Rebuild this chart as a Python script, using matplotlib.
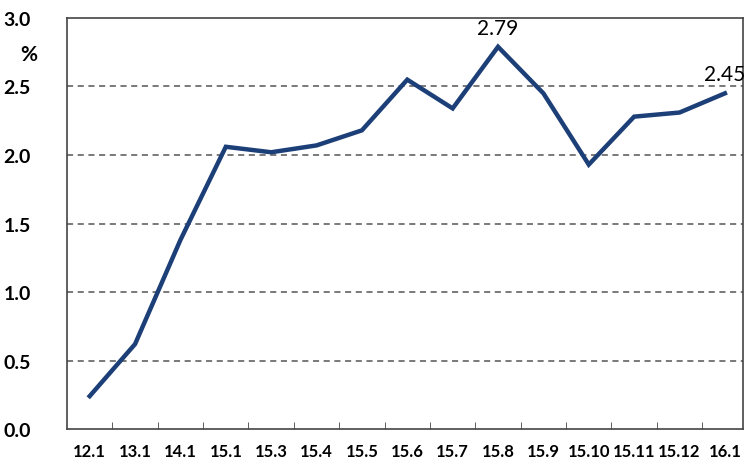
import matplotlib.pyplot as plt

plt.rcParams['font.family'] = ['Lato', 'DejaVu Sans']

months = ["12.1", "13.1", "14.1", "15.1", "15.3", "15.4", "15.5", "15.6",
          "15.7", "15.8", "15.9", "15.10", "15.11", "15.12", "16.1"]
rate = [0.24, 0.62, 1.38, 2.06, 2.02, 2.07, 2.18, 2.55,
        2.34, 2.79, 2.45, 1.93, 2.28, 2.31, 2.45]

fig = plt.figure(figsize=(7.47, 4.6), dpi=100)
ax = fig.add_axes([0.0897, 0.0652, 0.905, 0.8935])

x = list(range(len(months)))
ax.plot(x, rate, color='#1c3f78', linewidth=3.2, solid_joinstyle='miter', zorder=3)

ax.set_xlim(-0.5, 14.4)
ax.set_ylim(0, 3.0)
ax.set_yticks([0, 0.5, 1.0, 1.5, 2.0, 2.5, 3.0])
ax.set_yticklabels(["0.0", "0.5", "1.0", "1.5", "2.0", "2.5", "3.0"],
                   fontsize=14, fontweight='bold')
ax.tick_params(axis='y', length=0, pad=26)

ax.set_xticks(x)
ax.set_xticklabels(months, fontsize=12, fontweight='bold')
ax.tick_params(axis='x', which='major', length=0, pad=10)
ax.set_xticks([i + 0.5 for i in x[:-1]], minor=True)
ax.tick_params(axis='x', which='minor', direction='in', length=5, color='#444444')

for yv in [0.5, 1.0, 1.5, 2.0, 2.5]:
    ax.axhline(yv, color='#555555', linestyle=(0, (4, 3)), linewidth=1.1, zorder=1)

for s in ax.spines.values():
    s.set_color('#444444')
    s.set_linewidth(1.2)

ax.annotate("2.79", (9, 2.79), xytext=(0, 6), textcoords='offset points',
            ha='center', va='bottom', fontsize=15)
ax.annotate("2.45", (14, 2.45), xytext=(0, 7), textcoords='offset points',
            ha='center', va='bottom', fontsize=15)

fig.text(0.038, 0.88, "%", fontsize=15, fontweight='bold', ha='center', va='center')

fig.savefig("out.png", dpi=100)
plt.close(fig)
